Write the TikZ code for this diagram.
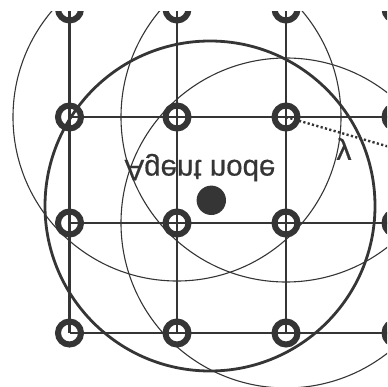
\documentclass[tikz,border=0pt]{standalone}
\usepackage{fontspec}
\setmainfont{Liberation Sans}
\newfontfamily\lblfont[FakeBold=0.5]{Liberation Sans}
\definecolor{ink}{HTML}{353535}
\begin{document}
\begin{tikzpicture}[x=1pt,y=-1pt,
  thinring/.style={draw=ink,line width=1.1pt},
  thickring/.style={draw=ink,line width=2.8pt},
  gridline/.style={draw=ink,line width=2.6pt},
  gridnode/.style={circle,draw=ink,line width=6pt,minimum size=23pt,inner sep=0pt},
  agentnode/.style={circle,fill=ink,minimum size=29.4pt,inner sep=0pt},
  fliptext/.style={yscale=-1,text=ink,font=\lblfont\fontsize{29.5}{29.5}\selectfont},
  lamtext/.style={text=ink,inner sep=0pt,font=\lblfont\fontsize{30}{30}\selectfont},
  dotline/.style={draw=ink,line width=2.4pt,dash pattern=on 2.2pt off 2.3pt}]
\useasboundingbox (0,0) rectangle (387,387);
\begin{scope}
\clip (0,12) rectangle (387,387);
% grid nodes
\foreach \r/\y in {1/9,2/117,3/223,4/333}{
  \foreach \c/\x in {1/69.5,2/177,3/286,4/396}{
    \coordinate (p\r\c) at (\x,\y);
  }
}
% thin reach circles
\draw[thinring] (p22) circle[radius=164pt];
\draw[thinring] (p23) circle[radius=165pt];
\draw[thinring] (p33) circle[radius=165pt];
% thick circle around agent
\coordinate (ac) at (210,206);
\draw[thickring] (ac) circle[radius=165pt];
% grid lines
\foreach \c in {1,2,3,4}{ \draw[gridline] (p1\c) -- (p4\c); }
\foreach \r in {1,2,3,4}{ \draw[gridline] (p\r1) -- (p\r4); }
\foreach \r in {1,2,3,4}{
  \foreach \c in {1,2,3,4}{
    \node[gridnode] (n\r\c) at (p\r\c) {};
  }
}
\node[agentnode] (agent) at (211.3,200.3) {};
\node[fliptext,anchor=base] (lbl) at (200,160) {Agent node};
\node[lamtext] (lam) at (344,149) {λ};
\coordinate (rend) at (445,163);
\draw[dotline] (n23.center) -- (rend);
\end{scope}
\end{tikzpicture}
\end{document}
